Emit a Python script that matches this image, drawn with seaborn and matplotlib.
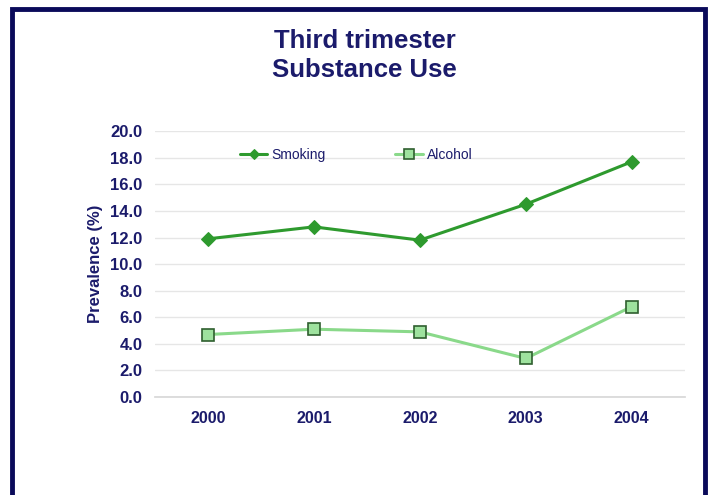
import matplotlib
matplotlib.use("Agg")
import matplotlib.pyplot as plt
import seaborn as sns
import pandas as pd
from matplotlib.patches import Rectangle

years = ["2000", "2001", "2002", "2003", "2004"]
smoking = [11.9, 12.8, 11.8, 14.5, 17.7]
alcohol = [4.7, 5.1, 4.9, 2.9, 6.8]
yticks = [0, 2, 4, 6, 8, 10, 12, 14, 16, 18, 20]

sns.set_theme(style="white")
plt.rcParams['font.family'] = ['Liberation Sans', 'DejaVu Sans']

navy = "#1b1b6b"
dark_green = "#2e9a2e"
light_green = "#8ad98a"

df = pd.DataFrame({"x": list(range(len(years))) * 2,
                   "Year": years * 2,
                   "value": smoking + alcohol,
                   "series": ["Smoking"] * len(years) + ["Alcohol"] * len(years)})

fig = plt.figure(figsize=(7.11, 4.95), dpi=100)
fig.patch.set_facecolor("white")
ax = fig.add_axes([0.218, 0.198, 0.745, 0.537])

sns.lineplot(data=df[df.series == "Smoking"], x="x", y="value", ax=ax,
             color=dark_green, linewidth=2.2, marker="D", markersize=7,
             markerfacecolor=dark_green, markeredgecolor=dark_green,
             label="Smoking")
sns.lineplot(data=df[df.series == "Alcohol"], x="x", y="value", ax=ax,
             color=light_green, linewidth=2.2, marker="s", markersize=9,
             markerfacecolor="#9ee29e", markeredgecolor="#2f5f2f",
             markeredgewidth=1.2, label="Alcohol")

ax.set_xlim(-0.5, 4.5)
ax.set_ylim(0, 20)
ax.set_yticks(yticks)
ax.set_yticklabels([f"{v:.1f}" for v in yticks])
ax.set_xticks(range(len(years)))
ax.set_xticklabels(years)
ax.tick_params(axis="both", length=0, labelsize=11.5, labelcolor=navy)
ax.tick_params(axis="y", labelsize=12, pad=9)
ax.tick_params(axis="x", pad=10)
for lab in ax.get_xticklabels() + ax.get_yticklabels():
    lab.set_fontweight("bold")
ax.grid(axis="y", color="#e6e6e6", linewidth=1)
for s in ["top", "right", "left"]:
    ax.spines[s].set_visible(False)
ax.spines["bottom"].set_color("#d8d8d8")
ax.set_xlabel("")
ax.set_ylabel("Prevalence (%)", fontsize=12, fontweight="bold", color=navy, labelpad=5)

leg = ax.legend(loc="upper center", bbox_to_anchor=(0.38, 0.985), ncol=2, frameon=False,
                handlelength=2.0, columnspacing=5.0, handletextpad=0.3, fontsize=10,
                markerscale=0.75)
for t in leg.get_texts():
    t.set_color(navy)

fig.text(0.513, 0.918, "Third trimester", ha="center", va="center",
         fontsize=18.5, fontweight="bold", color=navy)
fig.text(0.513, 0.858, "Substance Use", ha="center", va="center",
         fontsize=18.5, fontweight="bold", color=navy)

fig.patches.append(Rectangle((12 / 711, -0.05), (705 - 12) / 711, 1 - 9 / 495 + 0.05,
                             transform=fig.transFigure, fill=False,
                             edgecolor="#0a0a5a", linewidth=3.5))

fig.savefig("out.png", dpi=100)
